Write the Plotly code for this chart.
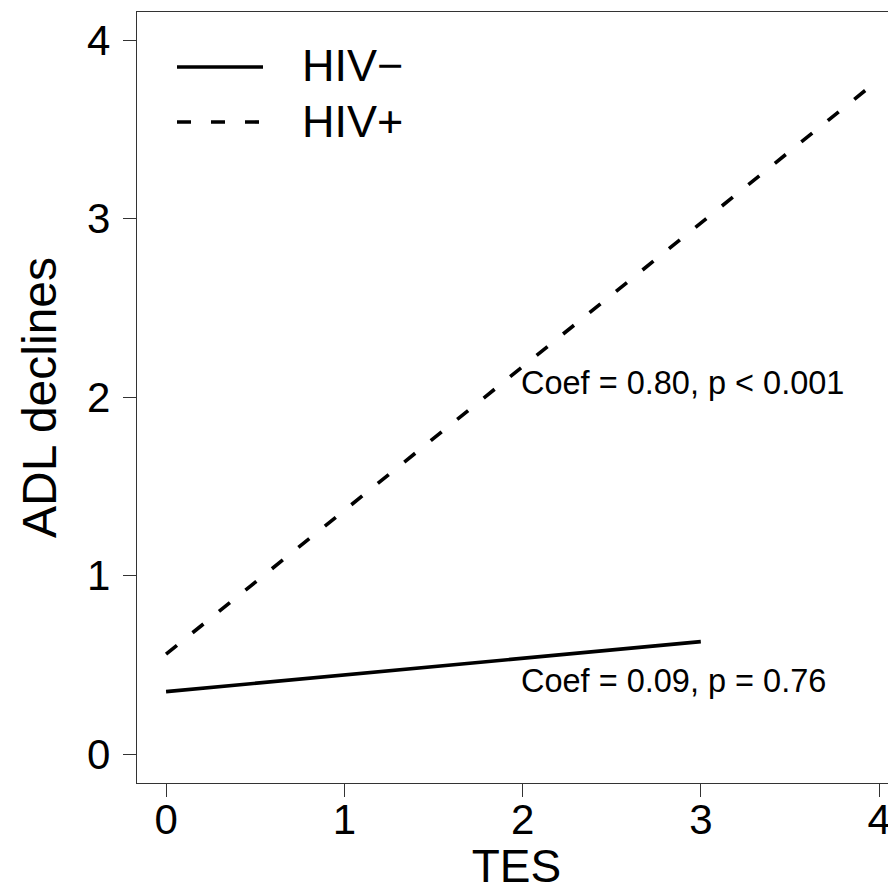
import plotly.graph_objects as go

# Data
tes_hiv_neg = [0, 3]
adl_hiv_neg = [0.35, 0.63]
tes_hiv_pos = [0, 4]
adl_hiv_pos = [0.56, 3.78]

series_names = ["HIV−", "HIV+"]
series_dash = ["solid", "14px,20px"]
x_ticks = [0, 1, 2, 3, 4]
y_ticks = [0, 1, 2, 3, 4]
annot_texts = ["Coef = 0.80, p &lt; 0.001", "Coef = 0.09, p = 0.76"]
annot_x = [1.98, 1.98]
annot_y = [2.08, 0.41]

FONT = "Liberation Sans, Arial, Helvetica, sans-serif"
# page body has an 8px margin, so the figure is sized to end at the window edge
W, H = 888, 884
ML, MR, MT, MB = 129, 0, 4, 109
PW, PH = W - ML - MR, H - MT - MB


def px2paper_x(px):
    return (px - ML) / PW


def px2paper_y(py):
    return (H - MB - py) / PH


fig = go.Figure()
fig.add_trace(go.Scatter(
    x=tes_hiv_neg, y=adl_hiv_neg, mode="lines", name=series_names[0],
    line=dict(color="black", width=3.6, dash=series_dash[0]), showlegend=False))
fig.add_trace(go.Scatter(
    x=tes_hiv_pos, y=adl_hiv_pos, mode="lines", name=series_names[1],
    line=dict(color="black", width=3.6, dash=series_dash[1]), showlegend=False))

for t, xx, yy in zip(annot_texts, annot_x, annot_y):
    fig.add_annotation(x=xx, y=yy, xref="x", yref="y", text=t, showarrow=False,
                       xanchor="left", yanchor="middle",
                       font=dict(family=FONT, size=32.5, color="black"))

# Legend (key lines + real text labels, top-left inside the plot); positions in figure px
legend_rows_py = [59, 114]
for name, dash, py in zip(series_names, series_dash, legend_rows_py):
    fig.add_shape(type="line", xref="paper", yref="paper",
                  x0=px2paper_x(169), x1=px2paper_x(255),
                  y0=px2paper_y(py), y1=px2paper_y(py),
                  line=dict(color="black", width=3.6, dash=dash))
    fig.add_annotation(x=px2paper_x(292), y=px2paper_y(py - 1), xref="paper", yref="paper",
                       text=name, showarrow=False, xanchor="left", yanchor="middle",
                       font=dict(family=FONT, size=45, color="black"))

fig.update_layout(
    width=W, height=H,
    margin=dict(l=ML, r=MR, t=MT, b=MB, autoexpand=False),
    paper_bgcolor="white", plot_bgcolor="white",
    font=dict(family=FONT, color="black"),
    showlegend=False,
    xaxis=dict(range=[-0.163, 4.095], tickvals=x_ticks, ticks="outside", ticklen=13,
               tickwidth=1, tickcolor="#333", showline=True, linecolor="#333",
               linewidth=1.3, mirror=True, showgrid=False, zeroline=False,
               automargin=False, ticklabelstandoff=-14,
               tickfont=dict(family=FONT, size=42, color="black"),
               title=dict(text="TES", font=dict(family=FONT, size=46, color="black"),
                          standoff=35)),
    yaxis=dict(range=[-0.162, 4.157], tickvals=y_ticks, ticks="outside", ticklen=13,
               tickwidth=1, tickcolor="#333", showline=True, linecolor="#333",
               linewidth=1.3, mirror=False, showgrid=False, zeroline=False,
               automargin=False, ticklabelstandoff=4,
               tickfont=dict(family=FONT, size=42, color="black"),
               title=dict(text="ADL declines", font=dict(family=FONT, size=48, color="black"),
                          standoff=15)),
)

fig.write_html("out.html")
